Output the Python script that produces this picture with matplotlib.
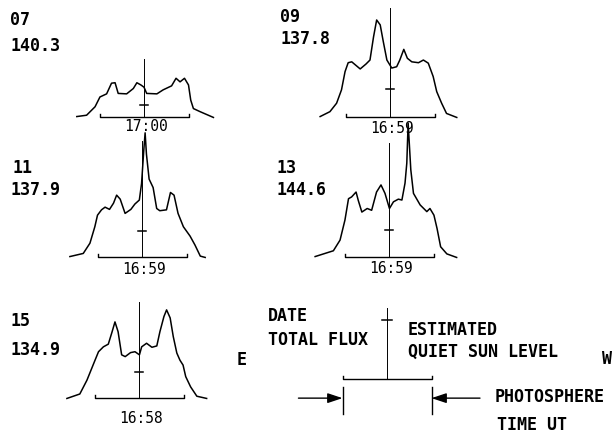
import matplotlib
matplotlib.use("Agg")
import matplotlib.pyplot as plt

# scan data: offset from disk centre (solar radii), antenna temperature (arb. units)
dates = ["07", "09", "11", "13", "15"]
total_flux = ["140.3", "137.8", "137.9", "144.6", "134.9"]
times_ut = ["17:00", "16:59", "16:59", "16:59", "16:58"]
quiet_sun = [0.27, 0.63, 0.58, 0.61, 0.58]

scan_07_x = [-1.51, -1.29, -1.10, -0.99, -0.84, -0.73, -0.65, -0.58, -0.39, -0.24, -0.16, -0.07,
             0.00, 0.06, 0.29, 0.43, 0.62, 0.72, 0.81, 0.91, 1.00, 1.05, 1.11, 1.26, 1.56]
scan_07_y = [0.01, 0.04, 0.23, 0.45, 0.52, 0.76, 0.77, 0.53, 0.52, 0.64, 0.77, 0.72,
             0.67, 0.53, 0.52, 0.61, 0.70, 0.87, 0.79, 0.87, 0.72, 0.38, 0.19, 0.12, -0.01]

scan_09_x = [-1.57, -1.35, -1.20, -1.09, -1.01, -0.94, -0.86, -0.67, -0.54, -0.45, -0.37, -0.30,
             -0.22, -0.15, -0.07, 0.04, 0.15, 0.22, 0.31, 0.39, 0.49, 0.64, 0.75, 0.86, 0.97,
             1.05, 1.16, 1.27, 1.50]
scan_09_y = [0.01, 0.12, 0.31, 0.61, 1.02, 1.22, 1.24, 1.08, 1.19, 1.28, 1.80, 2.18,
             2.07, 1.69, 1.28, 1.10, 1.13, 1.28, 1.52, 1.32, 1.24, 1.22, 1.28, 1.21, 0.91,
             0.57, 0.31, 0.08, -0.01]

scan_11_x = [-1.62, -1.32, -1.17, -1.06, -1.00, -0.91, -0.83, -0.73, -0.64, -0.57, -0.49, -0.38,
             -0.25, -0.16, -0.06, -0.01, 0.04, 0.07, 0.10, 0.16, 0.25, 0.33, 0.40, 0.55, 0.64,
             0.72, 0.81, 0.93, 1.08, 1.19, 1.31, 1.42]
scan_11_y = [0.01, 0.08, 0.31, 0.68, 0.94, 1.06, 1.12, 1.07, 1.21, 1.39, 1.30, 0.98,
             1.07, 1.19, 1.28, 1.65, 2.40, 2.79, 2.31, 1.75, 1.56, 1.09, 1.04, 1.06, 1.45,
             1.39, 0.98, 0.68, 0.47, 0.27, 0.02, -0.01]

scan_13_x = [-1.66, -1.25, -1.10, -0.99, -0.91, -0.84, -0.74, -0.69, -0.61, -0.49, -0.39, -0.28,
             -0.18, -0.09, 0.01, 0.10, 0.21, 0.29, 0.36, 0.40, 0.43, 0.49, 0.55, 0.70, 0.85,
             0.92, 1.01, 1.08, 1.16, 1.30, 1.52]
scan_13_y = [0.01, 0.14, 0.38, 0.83, 1.31, 1.35, 1.46, 1.27, 1.01, 1.09, 1.05, 1.46,
             1.62, 1.43, 1.09, 1.24, 1.30, 1.28, 1.66, 2.11, 3.01, 1.96, 1.43, 1.17, 1.02,
             1.09, 0.94, 0.64, 0.23, 0.07, -0.01]

scan_15_x = [-1.62, -1.33, -1.17, -1.00, -0.91, -0.80, -0.69, -0.61, -0.54, -0.47, -0.39, -0.31,
             -0.19, -0.09, 0.01, 0.06, 0.17, 0.29, 0.40, 0.47, 0.56, 0.62, 0.70, 0.77, 0.85,
             0.92, 0.99, 1.05, 1.16, 1.30, 1.52]
scan_15_y = [-0.01, 0.09, 0.40, 0.82, 1.04, 1.15, 1.21, 1.47, 1.71, 1.49, 0.97, 0.93,
             1.02, 1.04, 0.97, 1.15, 1.23, 1.14, 1.17, 1.49, 1.83, 1.98, 1.80, 1.38, 1.01,
             0.85, 0.74, 0.48, 0.25, 0.04, -0.01]

scans = [(scan_07_x, scan_07_y), (scan_09_x, scan_09_y), (scan_11_x, scan_11_y),
         (scan_13_x, scan_13_y), (scan_15_x, scan_15_y)]

# layout (pixels): panel centre x, baseline y, top of centre line, time label offset
W, H = 614, 434
UNIT = 44.5  # pixels per solar radius
panels = [(144, 117, 1.30, -0.22), (390, 117, 2.45, -0.25), (142, 257, 2.60, -0.29),
          (389, 257, 2.56, -0.25), (139, 398, 2.16, -0.45)]
label_pos = [((10, 20), (10, 46)), ((280, 17), (280, 39)), ((13, 168), (10, 190)),
             ((277, 168), (277, 190)), ((10, 321), (10, 350))]

big = dict(family="DejaVu Sans Mono", fontweight="bold", fontsize=12, color="black")
small = dict(family="DejaVu Sans Mono", fontsize=10.5, color="black")

fig = plt.figure(figsize=(W / 100, H / 100), dpi=100)
fig.patch.set_facecolor("white")


def panel_axes(cx, base):
    x0, x1, y0, y1 = -1.8, 2.2, -0.9, 3.3
    left = (cx + x0 * UNIT) / W
    bottom = 1 - (base - y0 * UNIT) / H
    ax = fig.add_axes([left, bottom, (x1 - x0) * UNIT / W, (y1 - y0) * UNIT / H])
    ax.set_xlim(x0, x1)
    ax.set_ylim(y0, y1)
    ax.set_facecolor("none")
    ax.axis("off")
    return ax


def bracket(ax, top):
    ax.plot([-1, -1, 1, 1], [0.07, 0, 0, 0.07], color="k", lw=1.0)
    ax.plot([0, 0], [0, top], color="k", lw=0.7)


def figtext(x, y, s, **kw):
    fig.text(x / W, 1 - y / H, s, ha="left", va="center", **kw)


for i, (cx, base, top, toff) in enumerate(panels):
    ax = panel_axes(cx, base)
    sx, sy = scans[i]
    ax.plot(sx, sy, color="k", lw=1.1, solid_joinstyle="round")
    bracket(ax, top)
    ax.plot([-0.09, 0.09], [quiet_sun[i], quiet_sun[i]], color="k", lw=1.1)
    ax.text(0.05, toff, times_ut[i], ha="center", va="center", **small)
    (dx, dy), (fx, fy) = label_pos[i]
    figtext(dx, dy, dates[i], **big)
    figtext(fx, fy, total_flux[i], **big)

# key
ax = panel_axes(387, 379)
bracket(ax, 1.6)
ax.plot([-0.12, 0.12], [1.32, 1.32], color="k", lw=1.1)
for xb in (-1, 1):
    ax.plot([xb, xb], [-0.17, -0.78], color="k", lw=1.0)
arrow = dict(arrowstyle="-|>,head_length=0.6,head_width=0.2", color="k", lw=1.0,
             mutation_scale=15, shrinkA=0, shrinkB=0)
ax.annotate("", xy=(-1, -0.43), xytext=(-1.99, -0.43), arrowprops=arrow)
ax.annotate("", xy=(1, -0.43), xytext=(2.09, -0.43), arrowprops=arrow)

figtext(268, 316, "DATE", **big)
figtext(268, 340, "TOTAL FLUX", **big)
figtext(408, 330, "ESTIMATED", **big)
figtext(408, 352, "QUIET SUN LEVEL", **big)
figtext(495, 397, "PHOTOSPHERE", **big)
figtext(497, 425, "TIME UT", **big)
figtext(237, 360, "E", **big)
figtext(602, 359, "W", **big)

fig.savefig("out.png", dpi=100, facecolor="white")
